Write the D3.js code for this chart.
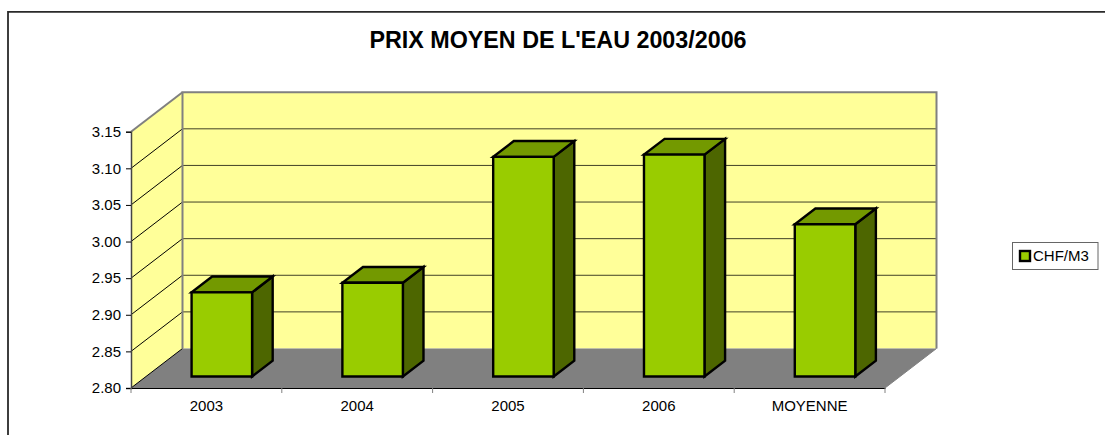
<!DOCTYPE html>
<html><head><meta charset="utf-8">
<script src="https://cdn.jsdelivr.net/npm/d3@7"></script>
<style>html,body{margin:0;padding:0;background:#fff}svg{display:block}text{font-family:"Liberation Sans",Arial,sans-serif;fill:#000}</style>
</head><body>
<svg id="c" width="1105" height="435"></svg>
<script>
const title = "PRIX MOYEN DE L'EAU 2003/2006";
const categories = ["2003","2004","2005","2006","MOYENNE"];
const values = [2.915,2.928,3.10,3.103,3.008];
const yTicks = [2.80,2.85,2.90,2.95,3.00,3.05,3.10,3.15];
const seriesName = "CHF/M3";

const svg = d3.select("#c");
const x = d3.scaleBand().domain(categories).range([131,885]);
const y = d3.scaleLinear().domain([2.80,3.15]).range([388,131.7]);
// oblique depth projection: depth 0 = front plane, 1 = back wall
const dxS = d3.scaleLinear().domain([0,1]).range([0,51.5]);
const dyS = d3.scaleLinear().domain([0,1]).range([0,-39.5]);
const P = (px,v,d)=>[px+dxS(d), y(v)+dyS(d)];
const line = d3.line();
const poly = pts => line(pts)+"Z";
const x0=x.range()[0], x1=x.range()[1], vMin=yTicks[0], vMax=yTicks[yTicks.length-1];

// outer frame: the crop leaves it open at the right and bottom
svg.append("path").attr("d","M8,435V11.8H1105").attr("fill","none").attr("stroke","#2a2a2a").attr("stroke-width",1.8);

svg.append("text").attr("x",558).attr("y",47.5).attr("text-anchor","middle")
  .attr("font-size",23.3).attr("font-weight","bold").text(title);

// walls
svg.append("path").attr("d",poly([P(x0,vMin,1),P(x1,vMin,1),P(x1,vMax,1),P(x0,vMax,1)])).attr("fill","#ffff99");
svg.append("path").attr("d",poly([P(x0,vMin,0),P(x0,vMin,1),P(x0,vMax,1),P(x0,vMax,0)])).attr("fill","#ffff99");
// floor
svg.append("path").attr("d",poly([P(x0,vMin,0),P(x1,vMin,0),P(x1,vMin,1),P(x0,vMin,1)])).attr("fill","#808080");

// gridlines
yTicks.slice(1,-1).forEach(t=>{
  svg.append("path").attr("d",line([P(x0,t,1),P(x1,t,1)])).attr("stroke","#000").attr("stroke-width",1).attr("fill","none").attr("stroke-opacity",.75);
});
yTicks.slice(0,-1).forEach(t=>{
  svg.append("path").attr("d",line([P(x0,t,0),P(x0,t,1)])).attr("stroke","#000").attr("stroke-width",1).attr("fill","none");
});
// wall edges
svg.append("path").attr("d",line([P(x0,vMin,1),P(x0,vMax,1),P(x1,vMax,1),P(x1,vMin,1)])).attr("stroke","#808080").attr("stroke-width",2).attr("fill","none");
svg.append("path").attr("d",line([P(x0,vMax,0),P(x0,vMax,1)])).attr("stroke","#808080").attr("stroke-width",2).attr("fill","none");
svg.append("path").attr("d",line([P(x1,vMin,0),P(x1,vMin,1)])).attr("stroke","#808080").attr("stroke-width",1).attr("fill","none");

// bars
const bw = 60.5, dA = 0.29, dB = 0.69;
const bars = svg.selectAll("g.bar").data(categories.map((c,i)=>({c,v:values[i]}))).join("g").attr("class","bar");
bars.each(function(d){
  const g=d3.select(this);
  const l=x(d.c)+(x.bandwidth()-bw)/2+0.5, r=l+bw;
  const st=s=>s.attr("stroke","#000").attr("stroke-width",2.4).attr("stroke-linejoin","miter");
  st(g.append("path").attr("d",poly([P(r,vMin,dA),P(r,vMin,dB),P(r,d.v,dB),P(r,d.v,dA)])).attr("fill","#4d6600"));
  st(g.append("path").attr("d",poly([P(l,d.v,dA),P(r,d.v,dA),P(r,d.v,dB),P(l,d.v,dB)])).attr("fill","#739900"));
  st(g.append("path").attr("d",poly([P(l,vMin,dA),P(r,vMin,dA),P(r,d.v,dA),P(l,d.v,dA)])).attr("fill","#99cc00"));
});

// axes
const axisY = d3.axisLeft(y).tickValues(yTicks).tickFormat(d3.format(".2f")).tickSize(5).tickPadding(5);
const gy = svg.append("g").attr("transform",`translate(${x0},0)`).call(axisY);
gy.select(".domain").attr("stroke","#444").attr("stroke-width",1.5);
const axisX = d3.axisBottom(x).tickSize(0).tickPadding(12);
const gx = svg.append("g").attr("transform",`translate(0,${y(vMin)})`).call(axisX);
gx.select(".domain").attr("stroke","#000").attr("stroke-width",1);
gx.selectAll(".tick").select("line").remove();
const boundaries = categories.map(c=>x(c)).concat([x1]);
gx.selectAll("line.b").data(boundaries).join("line").attr("class","b").attr("x1",d=>d).attr("x2",d=>d).attr("y1",0).attr("y2",5).attr("stroke","#808080");
svg.selectAll(".tick text").attr("font-size",15).attr("font-family",'"Liberation Sans",Arial,sans-serif').attr("fill","#000");

// legend
const lg = svg.append("g");
lg.append("rect").attr("x",1012.5).attr("y",242.5).attr("width",85.5).attr("height",27).attr("fill","#fff").attr("stroke","#666");
lg.append("rect").attr("x",1020).attr("y",251).attr("width",10).attr("height",10).attr("fill","#99cc00").attr("stroke","#000").attr("stroke-width",2.4);
lg.append("text").attr("x",1033).attr("y",260.8).attr("font-size",15).text(seriesName);
</script>
</body></html>
